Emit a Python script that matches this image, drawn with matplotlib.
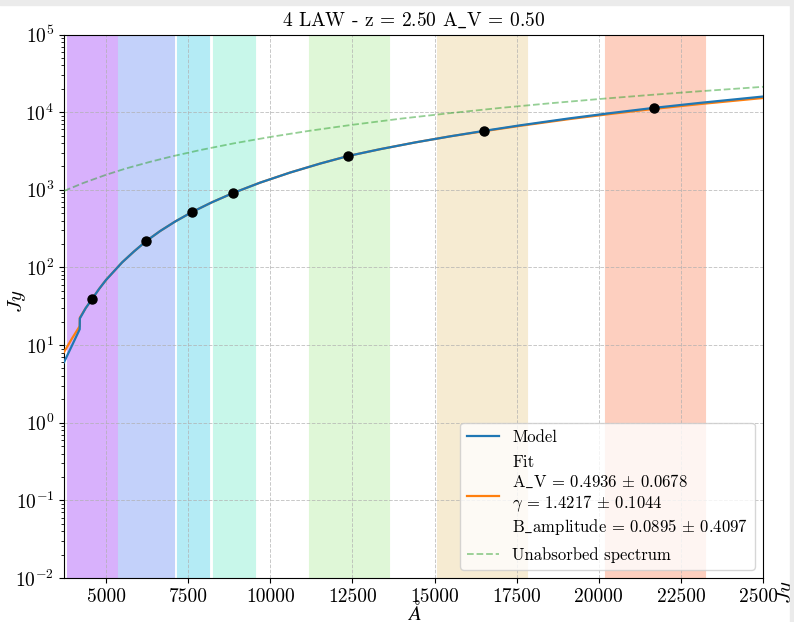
import math
import matplotlib
matplotlib.use("Agg")
import matplotlib.pyplot as plt
from matplotlib.patches import Rectangle
from matplotlib.ticker import FuncFormatter, FixedLocator

plt.rcParams['font.family'] = ['cmr10', 'DejaVu Serif']
plt.rcParams['mathtext.fontset'] = 'cm'
plt.rcParams['axes.unicode_minus'] = False

# filter bands (Angstrom)
band_lo = [3810, 5375, 7155, 8250, 11190, 15090, 20184]
band_hi = [5335, 7073, 8140, 9543, 13600, 17825, 23232]
band_colors = ['#d8b1fc', '#c3d1fa', '#b4ebf5', '#c8f7ea', '#dff7d7', '#f6ebd2', '#fdcfbf']

# photometric points
obs_wave = [4573, 6220, 7622, 8872, 12378, 16495, 21678]
obs_flux = [39, 218, 518, 910, 2730, 5730, 11350]

# model / fit curves
model_wave = [3720, 3950, 4198, 4202, 4380, 4573, 4786, 5000, 5488, 5854, 6220, 6646,
              7104, 7622, 8232, 8872, 9695, 10610, 11525, 12379, 13354, 14421,
              15489, 16495, 17623, 19086, 20367, 21678, 23111, 25000]
model_flux = [6.0, 9.6, 16, 22, 29.9, 39, 52.7, 69, 116, 161, 218, 294,
              390, 518, 693, 910, 1238, 1670, 2180, 2730, 3340, 4080,
              4890, 5730, 6780, 8290, 9730, 11350, 13200, 15890]
fit_flux = [8.1, 11.9, 17.5, 22.5, 29.9, 39, 52.7, 69, 116, 161, 218, 294,
            390, 518, 693, 910, 1238, 1670, 2180, 2730, 3340, 4080,
            4890, 5670, 6680, 8120, 9490, 11010, 12740, 15210]

# unabsorbed spectrum
unabs_wave = [3720, 4300, 5000, 5600, 6340, 7000, 7870, 8900, 10000, 11200, 12440,
              14000, 15490, 17000, 18540, 20000, 21590, 23000, 25000]
unabs_flux = [966, 1220, 1560, 1878, 2290, 2690, 3250, 3970, 4790, 5760, 6820,
              8270, 9730, 11330, 13030, 14740, 16680, 18480, 21200]

xticks = [5000, 7500, 10000, 12500, 15000, 17500, 20000, 22500, 25000]

fit_label = ("Fit\nA$\\_$V = 0.4936 $\\pm$ 0.0678\n$\\gamma$ = 1.4217 $\\pm$ 0.1044\n"
             "B$\\_$amplitude = 0.0895 $\\pm$ 0.4097")

fig = plt.figure(figsize=(7.94, 6.22), dpi=100)
ax = fig.add_axes([64 / 794, 1 - 578 / 622, 699 / 794, 543.5 / 622])

for lo, hi, c in zip(band_lo, band_hi, band_colors):
    ax.axvspan(lo, hi, color=c, lw=0.8)

ax.plot(model_wave, model_flux, color='C0', lw=1.6, label='Model', zorder=4)
ax.plot(model_wave, fit_flux, color='C1', lw=1.6, label=fit_label, zorder=3)
ax.plot(unabs_wave, unabs_flux, color='C2', ls='--', lw=1.3, alpha=0.5,
        label='Unabsorbed spectrum', zorder=3)
ax.errorbar(obs_wave, obs_flux, yerr=[0.12 * f for f in obs_flux], fmt='o',
            color='k', ms=6.5, elinewidth=1.5, zorder=5)

ax.set_yscale('log')
ax.set_xlim(3720, 25000)
ax.set_ylim(1e-2, 1e5)
ax.xaxis.set_major_locator(FixedLocator(xticks))
ax.yaxis.set_major_formatter(FuncFormatter(lambda v, p: r'$10^{%d}$' % round(math.log10(v))))
ax.grid(True, which='major', ls='--', color='#b0b0b0', lw=0.7, alpha=0.7)
ax.tick_params(labelsize=14)

ax.set_title('4 LAW - z = 2.50 A$\\_$V = 0.50', fontsize=14)
ax.set_xlabel(r'$\AA$', fontsize=15)
ax.set_ylabel(r'$Jy$', fontsize=15)
ax.xaxis.set_label_coords(0.501, -0.04)
ax.yaxis.set_label_coords(-0.052, 0.51)

ax.legend(loc='lower right', fontsize=12, framealpha=0.8, labelspacing=0.62,
          handlelength=1.9)

# neighbouring panel edge and page border
fig.patches.append(Rectangle((777 / 794, 0), 13 / 794, 40 / 622, transform=fig.transFigure,
                             color='white', zorder=10))
fig.text(786 / 794, 1 - 592 / 622, r'$Jy$', rotation=90, fontsize=15, ha='center',
         va='center', zorder=11)
fig.patches.append(Rectangle((790 / 794, 0), 4 / 794, 1, transform=fig.transFigure,
                             color='#ebebeb', zorder=12))
fig.patches.append(Rectangle((0, 617 / 622), 1, 5 / 622, transform=fig.transFigure,
                             color='#ebebeb', zorder=12))

fig.savefig('out.png', dpi=100)
